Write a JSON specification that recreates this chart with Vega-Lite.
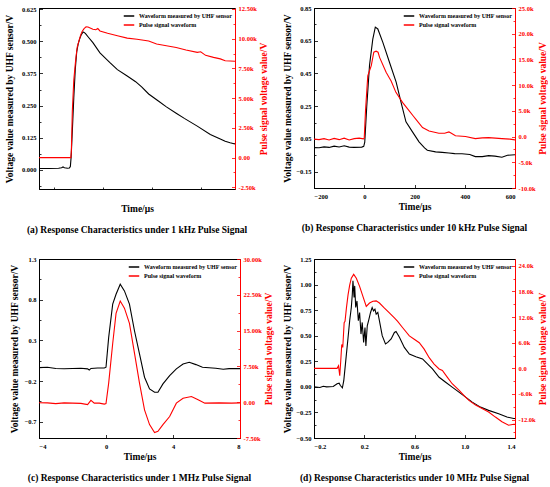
{
  "$schema": "https://vega.github.io/schema/vega-lite/v6.json",
  "padding": {"left": 3, "top": 4, "right": 0, "bottom": 0},
  "background": "white",
  "config": {
    "font": "Liberation Serif",
    "view": {"stroke": "black", "strokeWidth": 1},
    "axis": {
      "grid": false,
      "labelFont": "Liberation Serif", "labelFontSize": 6.5, "labelFontWeight": "bold",
      "titleFont": "Liberation Serif", "titleFontSize": 9.5, "titleFontWeight": "bold",
      "domainColor": "black", "tickColor": "black", "labelColor": "black", "titleColor": "black",
      "tickSize": -3, "labelPadding": 6.5, "titlePadding": 3, "domainWidth": 1, "tickWidth": 0.8
    },
    "axisX": {"labelPadding": 8.5, "titlePadding": 1.5},
    "legend": {
      "orient": "top-right", "offset": 2, "padding": 0,
      "labelFont": "Liberation Serif", "labelFontSize": 6, "labelFontWeight": "bold", "labelColor": "black",
      "symbolType": "stroke", "symbolStrokeWidth": 1.5, "symbolSize": 110, "rowPadding": 0, "labelLimit": 300
    },
    "title": {"font": "Liberation Serif", "fontSize": 9.5, "fontWeight": "bold", "color": "black", "orient": "bottom", "frame": "group", "anchor": "middle", "offset": 12}
  },
  "datasets": {
    "a_uhf": [
      {"t": -400, "v": 0.005}, {"t": -300, "v": 0.005}, {"t": -200, "v": 0.006}, {"t": -170, "v": 0.008}, {"t": -155, "v": 0.011}, {"t": -140, "v": 0.008}, {"t": -110, "v": 0.006}, {"t": -90, "v": 0.007}, {"t": -80, "v": 0.012}, {"t": -72, "v": 0.05}, {"t": -60, "v": 0.15}, {"t": -45, "v": 0.28}, {"t": -30, "v": 0.39}, {"t": -15, "v": 0.46}, {"t": 0, "v": 0.49}, {"t": 15, "v": 0.51}, {"t": 30, "v": 0.525}, {"t": 50, "v": 0.537}, {"t": 60, "v": 0.535}, {"t": 75, "v": 0.53}, {"t": 100, "v": 0.518}, {"t": 150, "v": 0.495}, {"t": 222, "v": 0.455}, {"t": 321, "v": 0.418}, {"t": 400, "v": 0.39}, {"t": 500, "v": 0.365}, {"t": 586, "v": 0.343}, {"t": 650, "v": 0.322}, {"t": 719, "v": 0.295}, {"t": 818, "v": 0.268}, {"t": 900, "v": 0.245}, {"t": 1000, "v": 0.22}, {"t": 1083, "v": 0.2}, {"t": 1215, "v": 0.17}, {"t": 1348, "v": 0.137}, {"t": 1450, "v": 0.12}, {"t": 1500, "v": 0.111}, {"t": 1550, "v": 0.105}, {"t": 1600, "v": 0.1}
    ],
    "a_pulse": [
      {"t": -400, "p": 0}, {"t": -75, "p": 0}, {"t": -70, "p": 500}, {"t": -60, "p": 3900}, {"t": -45, "p": 6500}, {"t": -26, "p": 8200}, {"t": -10, "p": 9300}, {"t": 7, "p": 9800}, {"t": 25, "p": 10300}, {"t": 40, "p": 10600}, {"t": 60, "p": 10850}, {"t": 80, "p": 11000}, {"t": 100, "p": 10980}, {"t": 150, "p": 10800}, {"t": 180, "p": 10750}, {"t": 200, "p": 10850}, {"t": 222, "p": 10650}, {"t": 300, "p": 10450}, {"t": 400, "p": 10250}, {"t": 500, "p": 10050}, {"t": 600, "p": 9950}, {"t": 719, "p": 9800}, {"t": 800, "p": 9550}, {"t": 900, "p": 9400}, {"t": 1000, "p": 9260}, {"t": 1100, "p": 9050}, {"t": 1215, "p": 8850}, {"t": 1250, "p": 8900}, {"t": 1300, "p": 8600}, {"t": 1381, "p": 8430}, {"t": 1450, "p": 8300}, {"t": 1500, "p": 8150}, {"t": 1600, "p": 8100}
    ],
    "b_uhf": [
      {"t": -200, "v": -0.003}, {"t": -180, "v": -0.004}, {"t": -160, "v": 0.001}, {"t": -140, "v": -0.002}, {"t": -120, "v": 0.006}, {"t": -100, "v": 0.001}, {"t": -80, "v": 0.008}, {"t": -60, "v": 0.0}, {"t": -40, "v": -0.002}, {"t": -10, "v": 0.0}, {"t": -2, "v": 0.005}, {"t": 2, "v": 0.03}, {"t": 10, "v": 0.25}, {"t": 21, "v": 0.5}, {"t": 34, "v": 0.66}, {"t": 44, "v": 0.733}, {"t": 54, "v": 0.722}, {"t": 74, "v": 0.64}, {"t": 100, "v": 0.52}, {"t": 127, "v": 0.397}, {"t": 146, "v": 0.276}, {"t": 166, "v": 0.154}, {"t": 192, "v": 0.093}, {"t": 218, "v": 0.032}, {"t": 240, "v": -0.005}, {"t": 251, "v": -0.019}, {"t": 284, "v": -0.029}, {"t": 310, "v": -0.032}, {"t": 337, "v": -0.036}, {"t": 360, "v": -0.04}, {"t": 389, "v": -0.041}, {"t": 420, "v": -0.045}, {"t": 442, "v": -0.058}, {"t": 470, "v": -0.058}, {"t": 495, "v": -0.052}, {"t": 520, "v": -0.055}, {"t": 548, "v": -0.062}, {"t": 570, "v": -0.05}, {"t": 600, "v": -0.047}
    ],
    "b_pulse": [
      {"t": -200, "p": -500}, {"t": -180, "p": -600}, {"t": -160, "p": -400}, {"t": -140, "p": -650}, {"t": -120, "p": -350}, {"t": -100, "p": -600}, {"t": -80, "p": -300}, {"t": -60, "p": -650}, {"t": -40, "p": -400}, {"t": -20, "p": -300}, {"t": -3, "p": -450}, {"t": 0, "p": -300}, {"t": 5, "p": 5000}, {"t": 14, "p": 11800}, {"t": 28, "p": 13800}, {"t": 38, "p": 16400}, {"t": 47, "p": 16600}, {"t": 55, "p": 16400}, {"t": 61, "p": 15400}, {"t": 87, "p": 12500}, {"t": 100, "p": 11400}, {"t": 107, "p": 10800}, {"t": 126, "p": 8600}, {"t": 153, "p": 6600}, {"t": 179, "p": 5000}, {"t": 195, "p": 4000}, {"t": 205, "p": 3400}, {"t": 232, "p": 1750}, {"t": 258, "p": 1100}, {"t": 297, "p": 650}, {"t": 320, "p": 650}, {"t": 337, "p": 900}, {"t": 345, "p": 700}, {"t": 363, "p": 150}, {"t": 403, "p": 0}, {"t": 442, "p": -400}, {"t": 470, "p": -250}, {"t": 495, "p": -200}, {"t": 548, "p": -400}, {"t": 580, "p": -500}, {"t": 600, "p": -650}
    ],
    "c_uhf": [
      {"t": -4, "v": -0.035}, {"t": -3.5, "v": -0.03}, {"t": -3, "v": -0.045}, {"t": -2.5, "v": -0.048}, {"t": -2, "v": -0.045}, {"t": -1.5, "v": -0.042}, {"t": -1.1, "v": -0.05}, {"t": -1, "v": -0.065}, {"t": -0.9, "v": -0.045}, {"t": -0.5, "v": -0.04}, {"t": -0.1, "v": -0.04}, {"t": 0, "v": -0.03}, {"t": 0.16, "v": 0.337}, {"t": 0.4, "v": 0.745}, {"t": 0.6, "v": 0.867}, {"t": 0.85, "v": 0.99}, {"t": 1.1, "v": 0.908}, {"t": 1.4, "v": 0.745}, {"t": 1.7, "v": 0.418}, {"t": 2.0, "v": 0.133}, {"t": 2.3, "v": -0.153}, {"t": 2.6, "v": -0.296}, {"t": 2.9, "v": -0.337}, {"t": 3.1, "v": -0.337}, {"t": 3.4, "v": -0.235}, {"t": 3.8, "v": -0.133}, {"t": 4.2, "v": -0.051}, {"t": 4.6, "v": 0.01}, {"t": 4.97, "v": 0.031}, {"t": 5.37, "v": 0.002}, {"t": 5.76, "v": -0.031}, {"t": 6.55, "v": -0.043}, {"t": 7.0, "v": -0.055}, {"t": 7.35, "v": -0.047}, {"t": 8, "v": -0.047}
    ],
    "c_pulse": [
      {"t": -4, "p": -100}, {"t": -3.5, "p": -150}, {"t": -3, "p": -300}, {"t": -2.5, "p": -150}, {"t": -2, "p": -200}, {"t": -1.5, "p": -250}, {"t": -1.1, "p": -500}, {"t": -0.9, "p": 400}, {"t": -0.7, "p": -200}, {"t": -0.4, "p": -200}, {"t": -0.1, "p": -400}, {"t": 0, "p": -300}, {"t": 0.16, "p": 4000}, {"t": 0.4, "p": 12300}, {"t": 0.6, "p": 18600}, {"t": 0.85, "p": 21200}, {"t": 1.1, "p": 19700}, {"t": 1.4, "p": 16500}, {"t": 1.7, "p": 10300}, {"t": 2.0, "p": 4000}, {"t": 2.3, "p": -1600}, {"t": 2.6, "p": -4700}, {"t": 2.9, "p": -6350}, {"t": 3.1, "p": -6100}, {"t": 3.4, "p": -4700}, {"t": 3.8, "p": -3000}, {"t": 4.2, "p": -200}, {"t": 4.6, "p": 840}, {"t": 5.1, "p": 1200}, {"t": 5.5, "p": 500}, {"t": 5.9, "p": -200}, {"t": 6.75, "p": -150}, {"t": 7.5, "p": -200}, {"t": 8, "p": -150}
    ],
    "d_uhf": [
      {"t": -0.2, "v": 0.0}, {"t": -0.153, "v": -0.006}, {"t": -0.126, "v": 0.006}, {"t": -0.1, "v": 0.0}, {"t": -0.047, "v": 0.003}, {"t": -0.016, "v": 0.03}, {"t": 0, "v": 0.036}, {"t": 0.01, "v": 0.013}, {"t": 0.026, "v": -0.01}, {"t": 0.037, "v": 0.06}, {"t": 0.05, "v": 0.22}, {"t": 0.058, "v": 0.32}, {"t": 0.071, "v": 0.48}, {"t": 0.084, "v": 0.646}, {"t": 0.097, "v": 0.776}, {"t": 0.105, "v": 0.906}, {"t": 0.11, "v": 1.036}, {"t": 0.119, "v": 0.873}, {"t": 0.124, "v": 0.987}, {"t": 0.132, "v": 0.776}, {"t": 0.142, "v": 0.84}, {"t": 0.153, "v": 0.646}, {"t": 0.163, "v": 0.727}, {"t": 0.174, "v": 0.516}, {"t": 0.184, "v": 0.63}, {"t": 0.195, "v": 0.435}, {"t": 0.206, "v": 0.58}, {"t": 0.213, "v": 0.4}, {"t": 0.224, "v": 0.597}, {"t": 0.237, "v": 0.66}, {"t": 0.25, "v": 0.727}, {"t": 0.263, "v": 0.776}, {"t": 0.274, "v": 0.743}, {"t": 0.285, "v": 0.76}, {"t": 0.295, "v": 0.71}, {"t": 0.308, "v": 0.727}, {"t": 0.321, "v": 0.646}, {"t": 0.343, "v": 0.5}, {"t": 0.369, "v": 0.419}, {"t": 0.387, "v": 0.435}, {"t": 0.414, "v": 0.468}, {"t": 0.44, "v": 0.532}, {"t": 0.453, "v": 0.542}, {"t": 0.48, "v": 0.484}, {"t": 0.519, "v": 0.386}, {"t": 0.559, "v": 0.321}, {"t": 0.611, "v": 0.295}, {"t": 0.664, "v": 0.273}, {"t": 0.703, "v": 0.224}, {"t": 0.743, "v": 0.175}, {"t": 0.796, "v": 0.094}, {"t": 0.848, "v": 0.045}, {"t": 0.9, "v": -0.003}, {"t": 0.954, "v": -0.052}, {"t": 1.007, "v": -0.1}, {"t": 1.06, "v": -0.149}, {"t": 1.125, "v": -0.198}, {"t": 1.19, "v": -0.23}, {"t": 1.27, "v": -0.263}, {"t": 1.336, "v": -0.295}, {"t": 1.39, "v": -0.31}, {"t": 1.4, "v": -0.31}
    ],
    "d_pulse": [
      {"t": -0.2, "p": 0}, {"t": -0.016, "p": 0}, {"t": -0.005, "p": 600}, {"t": 0.005, "p": -1700}, {"t": 0.013, "p": 1800}, {"t": 0.021, "p": 5600}, {"t": 0.029, "p": 4900}, {"t": 0.04, "p": 10700}, {"t": 0.047, "p": 11000}, {"t": 0.058, "p": 14100}, {"t": 0.071, "p": 17200}, {"t": 0.084, "p": 19500}, {"t": 0.097, "p": 21100}, {"t": 0.116, "p": 22000}, {"t": 0.137, "p": 21100}, {"t": 0.163, "p": 19200}, {"t": 0.19, "p": 16800}, {"t": 0.216, "p": 14500}, {"t": 0.242, "p": 15300}, {"t": 0.269, "p": 15700}, {"t": 0.295, "p": 15800}, {"t": 0.321, "p": 15300}, {"t": 0.361, "p": 14100}, {"t": 0.4, "p": 13000}, {"t": 0.44, "p": 11800}, {"t": 0.466, "p": 11000}, {"t": 0.506, "p": 9500}, {"t": 0.559, "p": 7600}, {"t": 0.598, "p": 6800}, {"t": 0.638, "p": 6000}, {"t": 0.677, "p": 4500}, {"t": 0.717, "p": 2500}, {"t": 0.756, "p": 1000}, {"t": 0.796, "p": -150}, {"t": 0.822, "p": -500}, {"t": 0.862, "p": -2100}, {"t": 0.9, "p": -3600}, {"t": 0.954, "p": -5100}, {"t": 0.993, "p": -6300}, {"t": 1.033, "p": -7500}, {"t": 1.086, "p": -8600}, {"t": 1.138, "p": -9400}, {"t": 1.19, "p": -10200}, {"t": 1.244, "p": -11400}, {"t": 1.296, "p": -12500}, {"t": 1.349, "p": -13300}, {"t": 1.39, "p": -13100}, {"t": 1.4, "p": -13100}
    ]
  },
  "columns": 2,
  "align": "none",
  "bounds": "flush",
  "spacing": {"row": 70, "column": 74},
  "resolve": {"scale": {"color": "independent"}, "legend": {"color": "independent"}},
  "concat": [
    {
      "width": 196, "height": 181,
      "title": {"text": "(a) Response Characteristics under 1 kHz Pulse Signal"},
      "layer": [
        {
          "data": {"name": "a_uhf"},
          "mark": {"type": "line", "strokeWidth": 1.1, "clip": true},
          "encoding": {
            "x": {"field": "t", "type": "quantitative", "scale": {"domain": [-400, 1600], "nice": false, "zero": false},
                  "axis": {"title": "Time/μs", "values": [-250, 0, 250, 500, 750, 1000, 1250, 1500],
                           "labelExpr": "datum.value % 500 === 0 ? format(datum.value, 'd') : ''",
                           "tickSize": {"condition": {"test": "datum.value % 500 !== 0", "value": -2}, "value": -3.5}}},
            "y": {"field": "v", "type": "quantitative", "scale": {"domain": [-0.075, 0.63], "nice": false, "zero": false},
                  "axis": {"title": "Voltage value measured by UHF sensor/V", "titlePadding": 7,
                           "values": [-0.0625, 0, 0.0625, 0.125, 0.1875, 0.25, 0.3125, 0.375, 0.4375, 0.5, 0.5625, 0.625],
                           "labelExpr": "abs(datum.value/0.125 - round(datum.value/0.125)) < 0.001 ? format(datum.value, '.3f') : ''",
                           "tickSize": {"condition": {"test": "abs(datum.value/0.125 - round(datum.value/0.125)) > 0.001", "value": -2}, "value": -3.5}}},
            "color": {"datum": "Waveform measured by UHF sensor", "type": "nominal",
                      "scale": {"domain": ["Waveform measured by UHF sensor", "Pulse signal waveform"], "range": ["black", "red"]},
                      "legend": {"title": null}}
          }
        },
        {
          "data": {"name": "a_pulse"},
          "mark": {"type": "line", "strokeWidth": 1.1, "clip": true},
          "encoding": {
            "x": {"field": "t", "type": "quantitative", "scale": {"domain": [-400, 1600], "nice": false, "zero": false}},
            "y": {"field": "p", "type": "quantitative", "scale": {"domain": [-2640, 12580], "nice": false, "zero": false},
                  "axis": {"orient": "right", "title": "Pulse signal voltage value/V", "titleAngle": -90, "titleBaseline": "top", "titlePadding": 2, "titleColor": "red", "labelColor": "red", "domainColor": "red", "tickColor": "red",
                           "values": [-2500, -1250, 0, 1250, 2500, 3750, 5000, 6250, 7500, 8750, 10000, 11250, 12500],
                           "labelExpr": "datum.value % 2500 !== 0 ? '' : (datum.value === 0 ? '0.00' : replace(format(datum.value/1000, '.2f'), '−', '-') + 'k')",
                           "tickSize": {"condition": {"test": "datum.value % 2500 !== 0", "value": -2}, "value": -3.5}}},
            "color": {"datum": "Pulse signal waveform", "type": "nominal"}
          }
        }
      ],
      "resolve": {"scale": {"y": "independent"}}
    },
    {
      "width": 201, "height": 180,
      "title": {"text": "(b) Response Characteristics under 10 kHz Pulse Signal"},
      "layer": [
        {
          "data": {"name": "b_uhf"},
          "mark": {"type": "line", "strokeWidth": 1.1, "clip": true},
          "encoding": {
            "x": {"field": "t", "type": "quantitative", "scale": {"domain": [-200, 600], "nice": false, "zero": false},
                  "axis": {"title": "Time/μs", "values": [-200, -100, 0, 100, 200, 300, 400, 500, 600],
                           "labelExpr": "datum.value % 200 === 0 ? format(datum.value, 'd') : ''",
                           "tickSize": {"condition": {"test": "datum.value % 200 !== 0", "value": -2}, "value": -3.5}}},
            "y": {"field": "v", "type": "quantitative", "scale": {"domain": [-0.25, 0.85], "nice": false, "zero": false},
                  "axis": {"title": "Voltage value measured by UHF sensor/V",
                           "values": [-0.25, -0.15, -0.05, 0.05, 0.15, 0.25, 0.35, 0.45, 0.55, 0.65, 0.75, 0.85],
                           "labelExpr": "abs((datum.value-0.05)/0.2 - round((datum.value-0.05)/0.2)) < 0.001 ? format(datum.value, '.2f') : ''",
                           "tickSize": {"condition": {"test": "abs((datum.value-0.05)/0.2 - round((datum.value-0.05)/0.2)) > 0.001", "value": -2}, "value": -3.5}}},
            "color": {"datum": "Waveform measured by UHF sensor", "type": "nominal",
                      "scale": {"domain": ["Waveform measured by UHF sensor", "Pulse signal waveform"], "range": ["black", "red"]},
                      "legend": {"title": null}}
          }
        },
        {
          "data": {"name": "b_pulse"},
          "mark": {"type": "line", "strokeWidth": 1.1, "clip": true},
          "encoding": {
            "x": {"field": "t", "type": "quantitative", "scale": {"domain": [-200, 600], "nice": false, "zero": false}},
            "y": {"field": "p", "type": "quantitative", "scale": {"domain": [-10000, 25000], "nice": false, "zero": false},
                  "axis": {"orient": "right", "title": "Pulse signal voltage value/V", "titleAngle": -90, "titleBaseline": "top", "titlePadding": 2, "titleColor": "red", "labelColor": "red", "domainColor": "red", "tickColor": "red",
                           "values": [-10000, -7500, -5000, -2500, 0, 2500, 5000, 7500, 10000, 12500, 15000, 17500, 20000, 22500, 25000],
                           "labelExpr": "datum.value % 5000 !== 0 ? '' : (datum.value === 0 ? '0.0' : replace(format(datum.value/1000, '.1f'), '−', '-') + 'k')",
                           "tickSize": {"condition": {"test": "datum.value % 5000 !== 0", "value": -2}, "value": -3.5}}},
            "color": {"datum": "Pulse signal waveform", "type": "nominal"}
          }
        }
      ],
      "resolve": {"scale": {"y": "independent"}}
    },
    {
      "width": 201, "height": 179,
      "title": {"text": "(c) Response Characteristics under 1 MHz Pulse Signal"},
      "layer": [
        {
          "data": {"name": "c_uhf"},
          "mark": {"type": "line", "strokeWidth": 1.1, "clip": true},
          "encoding": {
            "x": {"field": "t", "type": "quantitative", "scale": {"domain": [-4, 8], "nice": false, "zero": false},
                  "axis": {"title": "Time/μs", "values": [-4, -3, -2, -1, 0, 1, 2, 3, 4, 5, 6, 7, 8],
                           "labelExpr": "datum.value % 2 === 0 ? format(datum.value, 'd') : ''",
                           "tickSize": {"condition": {"test": "datum.value % 2 !== 0", "value": -2}, "value": -3.5}}},
            "y": {"field": "v", "type": "quantitative", "scale": {"domain": [-0.9, 1.3], "nice": false, "zero": false},
                  "axis": {"title": "Voltage value measured by UHF sensor/V", "titlePadding": 5,
                           "values": [-0.7, -0.45, -0.2, 0.05, 0.3, 0.55, 0.8, 1.05, 1.3],
                           "labelExpr": "abs((datum.value-0.3)/0.5 - round((datum.value-0.3)/0.5)) < 0.001 ? format(datum.value, '.1f') : ''",
                           "tickSize": {"condition": {"test": "abs((datum.value-0.3)/0.5 - round((datum.value-0.3)/0.5)) > 0.001", "value": -2}, "value": -3.5}}},
            "color": {"datum": "Waveform measured by UHF sensor", "type": "nominal",
                      "scale": {"domain": ["Waveform measured by UHF sensor", "Pulse signal waveform"], "range": ["black", "red"]},
                      "legend": {"title": null}}
          }
        },
        {
          "data": {"name": "c_pulse"},
          "mark": {"type": "line", "strokeWidth": 1.1, "clip": true},
          "encoding": {
            "x": {"field": "t", "type": "quantitative", "scale": {"domain": [-4, 8], "nice": false, "zero": false}},
            "y": {"field": "p", "type": "quantitative", "scale": {"domain": [-7500, 30000], "nice": false, "zero": false},
                  "axis": {"orient": "right", "title": "Pulse signal voltage value/V", "titleAngle": -90, "titleBaseline": "top", "titlePadding": 2, "titleColor": "red", "labelColor": "red", "domainColor": "red", "tickColor": "red",
                           "values": [-7500, -3750, 0, 3750, 7500, 11250, 15000, 18750, 22500, 26250, 30000],
                           "labelExpr": "datum.value % 7500 !== 0 ? '' : (datum.value === 0 ? '0.00' : replace(format(datum.value/1000, '.2f'), '−', '-') + 'k')",
                           "tickSize": {"condition": {"test": "datum.value % 7500 !== 0", "value": -2}, "value": -3.5}}},
            "color": {"datum": "Pulse signal waveform", "type": "nominal"}
          }
        }
      ],
      "resolve": {"scale": {"y": "independent"}}
    },
    {
      "width": 201, "height": 179,
      "title": {"text": "(d) Response Characteristics under 10 MHz Pulse Signal"},
      "layer": [
        {
          "data": {"name": "d_uhf"},
          "mark": {"type": "line", "strokeWidth": 1.1, "clip": true},
          "encoding": {
            "x": {"field": "t", "type": "quantitative", "scale": {"domain": [-0.2, 1.4], "nice": false, "zero": false},
                  "axis": {"title": "Time/μs", "values": [-0.2, -0.1, 0, 0.1, 0.2, 0.3, 0.4, 0.5, 0.6, 0.7, 0.8, 0.9, 1.0, 1.1, 1.2, 1.3, 1.4],
                           "labelExpr": "abs(datum.value/0.2 - round(datum.value/0.2)) < 0.001 ? format(datum.value, '.1f') : ''",
                           "tickSize": {"condition": {"test": "abs(datum.value/0.2 - round(datum.value/0.2)) > 0.001", "value": -2}, "value": -3.5}}},
            "y": {"field": "v", "type": "quantitative", "scale": {"domain": [-0.5, 1.25], "nice": false, "zero": false},
                  "axis": {"title": "Voltage value measured by UHF sensor/V",
                           "values": [-0.5, -0.375, -0.25, -0.125, 0, 0.125, 0.25, 0.375, 0.5, 0.625, 0.75, 0.875, 1.0, 1.125, 1.25],
                           "labelExpr": "abs(datum.value/0.25 - round(datum.value/0.25)) < 0.001 ? format(datum.value, '.2f') : ''",
                           "tickSize": {"condition": {"test": "abs(datum.value/0.25 - round(datum.value/0.25)) > 0.001", "value": -2}, "value": -3.5}}},
            "color": {"datum": "Waveform measured by UHF sensor", "type": "nominal",
                      "scale": {"domain": ["Waveform measured by UHF sensor", "Pulse signal waveform"], "range": ["black", "red"]},
                      "legend": {"title": null}}
          }
        },
        {
          "data": {"name": "d_pulse"},
          "mark": {"type": "line", "strokeWidth": 1.1, "clip": true},
          "encoding": {
            "x": {"field": "t", "type": "quantitative", "scale": {"domain": [-0.2, 1.4], "nice": false, "zero": false}},
            "y": {"field": "p", "type": "quantitative", "scale": {"domain": [-16300, 25600], "nice": false, "zero": false},
                  "axis": {"orient": "right", "title": "Pulse signal voltage value/V", "titleAngle": -90, "titleBaseline": "top", "titlePadding": 2, "titleColor": "red", "labelColor": "red", "domainColor": "red", "tickColor": "red",
                           "values": [-15000, -12000, -9000, -6000, -3000, 0, 3000, 6000, 9000, 12000, 15000, 18000, 21000, 24000],
                           "labelExpr": "datum.value % 6000 !== 0 ? '' : (datum.value === 0 ? '0.0' : replace(format(datum.value/1000, '.1f'), '−', '-') + 'k')",
                           "tickSize": {"condition": {"test": "datum.value % 6000 !== 0", "value": -2}, "value": -3.5}}},
            "color": {"datum": "Pulse signal waveform", "type": "nominal"}
          }
        }
      ],
      "resolve": {"scale": {"y": "independent"}}
    }
  ]
}
